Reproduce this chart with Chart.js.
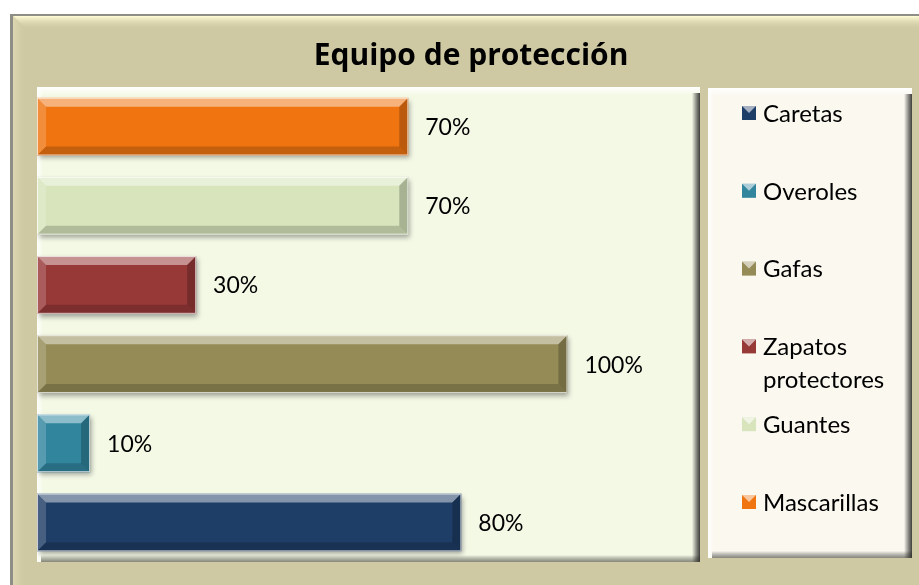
<!DOCTYPE html>
<html>
<head>
<meta charset="utf-8">
<script src="https://cdn.jsdelivr.net/npm/chart.js@4"></script>
<style>
html, body { margin: 0; padding: 0; background: #fff; }
#wrap { width: 919px; height: 585px; }
</style>
</head>
<body>
<div id="wrap"><canvas id="chart" width="919" height="585"></canvas></div>
<script>
// Data (bottom to top on the chart, top to bottom in the legend)
const categories = ['Caretas', 'Overoles', 'Gafas', 'Zapatos protectores', 'Guantes', 'Mascarillas'];
const values = [80, 10, 100, 30, 70, 70];
const barColors = ['#1f3e67', '#31869e', '#958b57', '#963937', '#d7e4bc', '#f07410'];
const legendLines = [['Caretas'], ['Overoles'], ['Gafas'], ['Zapatos', 'protectores'], ['Guantes'], ['Mascarillas']];
const chartTitle = 'Equipo de protección';

const FONT = 'Lato, "Open Sans", sans-serif';

function bevelBox(ctx, x0, y0, x1, y1, fill) {
    ctx.fillStyle = fill;
    ctx.fillRect(x0, y0, x1 - x0, y1 - y0);
    // top highlight
    let g = ctx.createLinearGradient(0, y0, 0, y0 + 8);
    g.addColorStop(0, 'rgba(255,255,255,1)');
    g.addColorStop(1, 'rgba(255,255,255,0)');
    ctx.fillStyle = g;
    ctx.fillRect(x0, y0, x1 - x0, 8);
    // left highlight
    g = ctx.createLinearGradient(x0, 0, x0 + 6, 0);
    g.addColorStop(0, 'rgba(255,255,255,0.9)');
    g.addColorStop(1, 'rgba(255,255,255,0)');
    ctx.fillStyle = g;
    ctx.fillRect(x0, y0, 6, y1 - y0);
    // right shadow
    g = ctx.createLinearGradient(x1 - 8, 0, x1, 0);
    g.addColorStop(0, 'rgba(0,0,0,0)');
    g.addColorStop(1, 'rgba(30,30,30,0.85)');
    ctx.fillStyle = g;
    ctx.fillRect(x1 - 8, y0 + 6, 8, y1 - y0 - 6);
    // bottom shadow
    g = ctx.createLinearGradient(0, y1 - 7, 0, y1);
    g.addColorStop(0, 'rgba(0,0,0,0)');
    g.addColorStop(1, 'rgba(60,60,50,0.6)');
    ctx.fillStyle = g;
    ctx.fillRect(x0 + 4, y1 - 7, x1 - x0 - 4, 7);
}

const framePlugin = {
    id: 'frame',
    beforeDraw(chart) {
        const ctx = chart.ctx;
        ctx.save();
        ctx.fillStyle = '#ffffff';
        ctx.fillRect(0, 0, chart.width, chart.height);
        // outer tan frame
        ctx.fillStyle = '#cfc9a3';
        ctx.fillRect(10, 14, chart.width - 10, chart.height - 14);
        ctx.fillStyle = '#8e8e86';
        ctx.fillRect(10, 14, 3, chart.height - 14);
        ctx.fillRect(10, 14, chart.width - 10, 2);
        let g = ctx.createLinearGradient(0, 16, 0, 30);
        g.addColorStop(0, '#fffcd6');
        g.addColorStop(1, 'rgba(207,201,163,0)');
        ctx.fillStyle = g;
        ctx.beginPath();
        ctx.moveTo(13, 16); ctx.lineTo(chart.width, 16); ctx.lineTo(chart.width, 30); ctx.lineTo(27, 30); ctx.closePath();
        ctx.fill();
        g = ctx.createLinearGradient(13, 0, 27, 0);
        g.addColorStop(0, '#dcd6b2');
        g.addColorStop(1, 'rgba(207,201,163,0)');
        ctx.fillStyle = g;
        ctx.beginPath();
        ctx.moveTo(13, 16); ctx.lineTo(27, 30); ctx.lineTo(27, chart.height); ctx.lineTo(13, chart.height); ctx.closePath();
        ctx.fill();

        // plot area box
        const a = chart.chartArea;
        bevelBox(ctx, a.left, a.top, a.right, a.bottom, '#f4f9e6');
        // legend box
        bevelBox(ctx, 708, 88, 912, 558, '#faf8ef');
        ctx.restore();
    },
    beforeDatasetDraw(chart) {
        const ctx = chart.ctx;
        ctx.save();
        ctx.shadowColor = 'rgba(0,0,0,0.35)';
        ctx.shadowBlur = 5;
        ctx.shadowOffsetX = 2;
        ctx.shadowOffsetY = 3;
    },
    afterDatasetDraw(chart) {
        chart.ctx.restore();
    },
    afterDatasetsDraw(chart) {
        const ctx = chart.ctx;
        const meta = chart.getDatasetMeta(0);
        ctx.save();
        meta.data.forEach((bar, i) => {
            const l = bar.base, r = bar.x;
            const t = bar.y - bar.height / 2, btm = bar.y + bar.height / 2;
            const b = Math.min(9, (r - l) / 2);
            // bevel facets
            const facets = [
                [[l, t], [r, t], [r - b, t + b], [l + b, t + b], 'rgba(255,255,255,0.45)'],
                [[l, btm], [r, btm], [r - b, btm - b], [l + b, btm - b], 'rgba(0,0,0,0.18)'],
                [[l, t], [l + b, t + b], [l + b, btm - b], [l, btm], 'rgba(255,255,255,0.18)'],
                [[r, t], [r - b, t + b], [r - b, btm - b], [r, btm], 'rgba(0,0,0,0.22)']
            ];
            facets.forEach(f => {
                ctx.beginPath();
                ctx.moveTo(f[0][0], f[0][1]);
                for (let k = 1; k < 4; k++) ctx.lineTo(f[k][0], f[k][1]);
                ctx.closePath();
                ctx.fillStyle = f[4];
                ctx.fill();
            });
            ctx.strokeStyle = 'rgba(255,255,255,0.7)';
            ctx.lineWidth = 1;
            ctx.strokeRect(l + 0.5, t + 0.5, r - l - 1, btm - t - 1);

            // value label
            ctx.fillStyle = '#000';
            ctx.font = '23px ' + FONT;
            ctx.textAlign = 'left';
            ctx.textBaseline = 'middle';
            ctx.fillText(values[i] + '%', r + 17, bar.y + 1);
        });
        ctx.restore();
    },
    afterDraw(chart) {
        const ctx = chart.ctx;
        ctx.save();
        // title
        ctx.fillStyle = '#000';
        ctx.font = 'bold 30px "Open Sans", sans-serif';
        ctx.textAlign = 'center';
        ctx.textBaseline = 'middle';
        ctx.fillText(chartTitle, 471, 56);

        // legend
        ctx.font = '24px ' + FONT;
        ctx.textAlign = 'left';
        legendLines.forEach((lines, i) => {
            const yc = 113 + i * 77.8;
            ctx.fillStyle = barColors[i];
            ctx.fillRect(742, yc - 7, 14, 14);
            ctx.fillStyle = 'rgba(255,255,255,0.6)';
            ctx.beginPath();
            ctx.moveTo(742, yc - 7); ctx.lineTo(756, yc - 7); ctx.lineTo(749, yc); ctx.closePath();
            ctx.fill();
            ctx.fillStyle = '#000';
            lines.forEach((txt, j) => {
                ctx.fillText(txt, 763, yc + 1 + j * 33);
            });
        });
        ctx.restore();
    }
};

new Chart(document.getElementById('chart'), {
    type: 'bar',
    data: {
        labels: categories,
        datasets: [{
            data: values,
            backgroundColor: barColors,
            borderWidth: 0,
            barPercentage: 0.73,
            categoryPercentage: 1.0
        }]
    },
    options: {
        indexAxis: 'y',
        responsive: false,
        animation: false,
        layout: {
            padding: { left: 37, top: 87, right: 219, bottom: 23 }
        },
        plugins: {
            legend: { display: false },
            tooltip: { enabled: false }
        },
        scales: {
            x: { display: false, min: 0, max: 125 },
            y: { display: false, reverse: true }
        }
    },
    plugins: [framePlugin]
});
</script>
</body>
</html>
